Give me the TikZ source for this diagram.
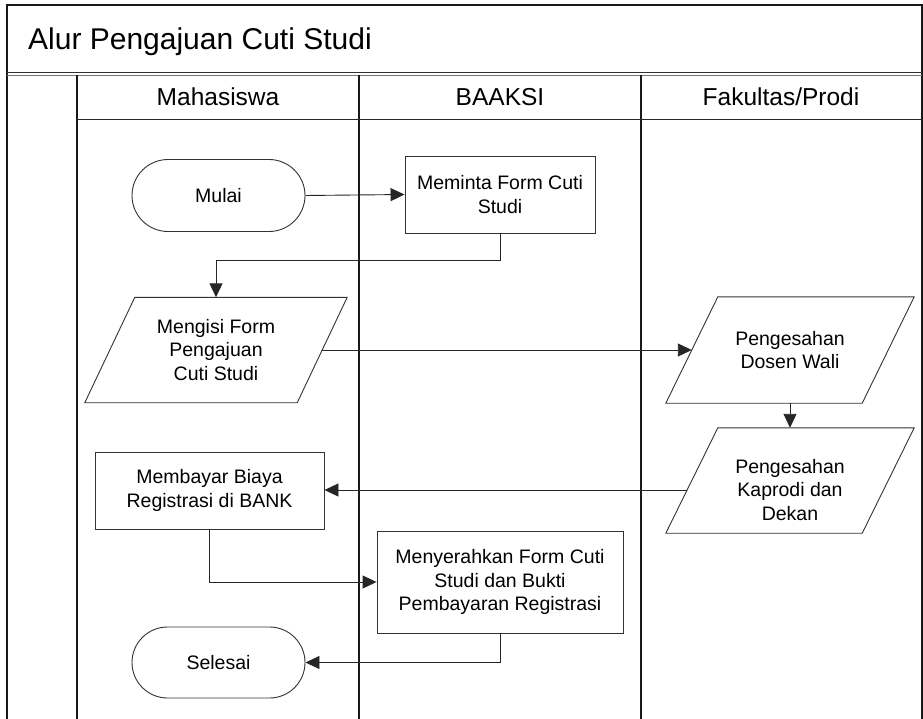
\documentclass[tikz,border=0pt]{standalone}
\usepackage{fontspec}
\setmainfont{Liberation Sans}
\usetikzlibrary{shapes.misc,arrows.meta,calc}

\begin{document}
\begin{tikzpicture}[x=1pt,y=-1pt,
  frameline/.style={line width=1.3pt, draw=black!90},
  outline/.style={draw=black!80, line width=0.9pt},
  shapebox/.style={outline, fill=white, align=center,
    font=\fontsize{19.5}{23.5}\selectfont, inner sep=2pt},
  procbox/.style={shapebox, rectangle},
  termbox/.style={shapebox, rounded rectangle},
  iobox/.style={rectangle, align=center, font=\fontsize{19.5}{23.5}\selectfont, inner sep=2pt},
  boxtext/.style={align=center, font=\fontsize{19.5}{23.5}\selectfont, inner sep=0pt},
  arr/.style={draw=black!85, line width=0.9pt, -{Triangle[length=14pt,width=13pt]}},
  lanehead/.style={font=\fontsize{24.5}{29}\selectfont, inner sep=0pt, anchor=base}
]
\useasboundingbox (0,0) rectangle (923,719);

% outer frame and title bar
\draw[frameline] (7,719) -- (7,5) -- (922,5) -- (922,719);
\draw[line width=1pt, black!80] (7,72.5) -- (922,72.5);
\draw[line width=0.8pt, black!55] (7,75) -- (922,75);
\node[anchor=base west, font=\fontsize{30}{36}\selectfont, inner sep=0pt] (title) at (28,50) {Alur Pengajuan Cuti Studi};

% swimlanes
\draw[frameline] (77,75) -- (77,719);
\draw[frameline] (359,75) -- (359,719);
\draw[frameline] (641,75) -- (641,719);
\draw[line width=1pt, black!85] (77,120) -- (922,120);
\node[lanehead] (hmhs) at (218,106) {Mahasiswa};
\node[lanehead] (hbaak) at (500,106) {BAAKSI};
\node[lanehead] (hfak) at (781,106) {Fakultas/Prodi};

% flow steps
\node[termbox, minimum width=177pt, minimum height=72pt] (mulai) at (218.5,195.5) {Mulai};
\node[procbox, minimum width=190pt, minimum height=77pt] (meminta) at (500,194.5) {Meminta Form Cuti\\Studi};
\node[iobox, minimum width=212pt, minimum height=105pt] (mengisi) at (216,350) {Mengisi Form\\Pengajuan\\Cuti Studi};
\node[iobox, minimum width=196pt, minimum height=106pt] (dosen) at (790,350) {Pengesahan\\Dosen Wali};
\node[iobox, minimum width=196pt, minimum height=105pt] (kaprodi) at (790,480.5) {};
\node[boxtext] (kaprodilbl) at (790,490) {Pengesahan\\Kaprodi dan\\Dekan};
\node[procbox, minimum width=229pt, minimum height=77pt] (membayar) at (209.5,490.5) {Membayar Biaya\\Registrasi di BANK};
\node[procbox, minimum width=246pt, minimum height=102pt] (menyerahkan) at (500,582) {Menyerahkan Form Cuti\\Studi dan Bukti\\Pembayaran Registrasi};
\node[termbox, minimum width=177pt, minimum height=71pt] (selesai) at (218.5,662.5) {Selesai};

% input/output steps drawn as parallelograms around their nodes
\draw[outline] ($(mengisi.north west)+(25,0)$) -- ($(mengisi.north east)+(25,0)$)
  -- ($(mengisi.south east)+(-25,0)$) -- ($(mengisi.south west)+(-25,0)$) -- cycle;
\foreach \n in {dosen,kaprodi}
  \draw[outline] ($(\n.north west)+(26,0)$) -- ($(\n.north east)+(26,0)$)
    -- ($(\n.south east)+(-26,0)$) -- ($(\n.south west)+(-26,0)$) -- cycle;

% connectors
\draw[arr] (mulai.east) -- (meminta.west);
\draw[arr] (meminta.south) -- ++(0,27) -| (mengisi.north);
\draw[arr] (mengisi.east) -- (dosen.west);
\draw[arr] (dosen.south) -- (kaprodi.north);
\coordinate (kp) at ($(kaprodi.west)+(-4.5,9.5)$);
\draw[arr] (kp) -- (membayar.east |- kp);
\draw[arr] (membayar.south) |- (menyerahkan.west);
\draw[arr] (menyerahkan.south) |- (selesai.east);
\end{tikzpicture}
\end{document}
